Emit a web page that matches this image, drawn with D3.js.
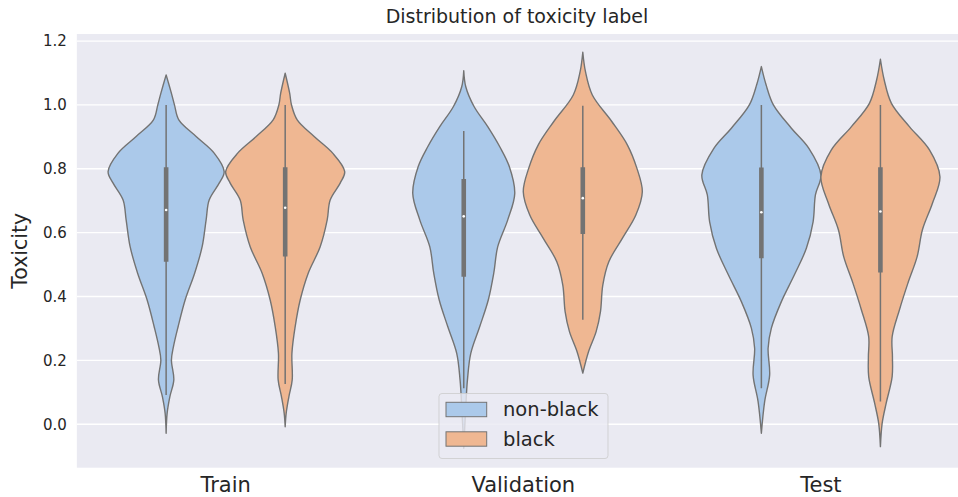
<!DOCTYPE html>
<html>
<head>
<meta charset="utf-8">
<script src="https://cdn.jsdelivr.net/npm/d3@7"></script>
<style>
  html, body { margin: 0; padding: 0; background: #ffffff; }
  svg { display: block; }
  text { font-family: "DejaVu Sans", sans-serif; fill: #262626; }
</style>
</head>
<body>
<svg id="chart" width="958" height="497"></svg>
<script>
// ---------- data ----------
const categories = ["Train", "Validation", "Test"];
const hues = ["non-black", "black"];
const yTicks = [0.0, 0.2, 0.4, 0.6, 0.8, 1.0, 1.2];

// violin profiles: [toxicity, relative density (1 = widest violin)]
const trainNonBlack = [[1.094,0],[1.036,0.089],[1.0,0.14],[0.953,0.213],[0.901,0.504],[0.849,0.807],[0.791,0.975],[0.755,0.891],[0.702,0.723],[0.640,0.672],[0.556,0.605],[0.473,0.479],[0.389,0.319],[0.306,0.202],[0.243,0.123],[0.201,0.089],[0.139,0.129],[0.086,0.062],[0.035,0.017],[-0.028,0]];
const trainBlack = [[1.099,0],[1.036,0.076],[1.0,0.106],[0.953,0.202],[0.901,0.487],[0.849,0.798],[0.791,1.0],[0.755,0.924],[0.702,0.756],[0.640,0.706],[0.556,0.588],[0.473,0.387],[0.389,0.252],[0.306,0.168],[0.222,0.113],[0.139,0.118],[0.086,0.062],[0.035,0.017],[-0.008,0]];
const valNonBlack = [[1.107,0],[1.057,0.034],[0.995,0.173],[0.932,0.403],[0.869,0.605],[0.807,0.765],[0.723,0.857],[0.640,0.739],[0.556,0.571],[0.473,0.504],[0.389,0.412],[0.306,0.269],[0.222,0.118],[0.139,0.062],[0.055,0.034],[-0.075,0]];
const valBlack = [[1.165,0],[1.104,0.045],[1.031,0.16],[0.948,0.487],[0.875,0.748],[0.802,0.908],[0.728,1.0],[0.655,0.891],[0.582,0.664],[0.509,0.437],[0.436,0.336],[0.353,0.297],[0.290,0.224],[0.227,0.096],[0.160,0]];
const testNonBlack = [[1.120,0],[1.063,0.079],[1.0,0.202],[0.927,0.504],[0.864,0.798],[0.781,1.0],[0.718,0.908],[0.634,0.869],[0.551,0.756],[0.468,0.555],[0.384,0.336],[0.301,0.168],[0.238,0.113],[0.154,0.139],[0.071,0.055],[-0.028,0]];
const testBlack = [[1.143,0],[1.078,0.064],[1.005,0.185],[0.932,0.487],[0.859,0.824],[0.775,1.0],[0.692,0.874],[0.609,0.706],[0.525,0.617],[0.442,0.462],[0.358,0.319],[0.274,0.197],[0.212,0.202],[0.149,0.197],[0.066,0.097],[0.003,0.029],[-0.070,0]];

// box statistics per category (Train, Validation, Test)
const whiskerLowNonBlack  = [0.092, 0.113, 0.113];
const q1NonBlack          = [0.509, 0.462, 0.520];
const medianNonBlack      = [0.671, 0.651, 0.664];
const q3NonBlack          = [0.805, 0.768, 0.804];
const whiskerHighNonBlack = [1.000, 0.918, 1.000];
const whiskerLowBlack     = [0.126, 0.327, 0.071];
const q1Black             = [0.525, 0.596, 0.475];
const medianBlack         = [0.678, 0.708, 0.666];
const q3Black             = [0.805, 0.805, 0.805];
const whiskerHighBlack    = [1.000, 0.997, 1.000];

// ---------- layout ----------
const svg = d3.select("#chart");
const plot = { left: 76.85, right: 969.7, top: 34, bottom: 467.7 };
const fillColors = { "non-black": "#abc9ea", "black": "#efb792" };
const lineGray = "#737373";

const x = d3.scaleBand().domain(categories).range([plot.left, plot.right]).padding(0);
const hueX = d3.scaleBand().domain(hues).range([-0.4, 0.4]); // in band units
const y = d3.scaleLinear().domain([-0.136, 1.222]).range([plot.bottom, plot.top]);
const halfW = x.bandwidth() * 0.2;

const defs = svg.append("defs");
defs.append("clipPath").attr("id", "clip").append("rect")
  .attr("x", plot.left).attr("y", plot.top)
  .attr("width", plot.right - plot.left).attr("height", plot.bottom - plot.top);

// background
svg.append("rect").attr("x", plot.left).attr("y", plot.top)
  .attr("width", plot.right - plot.left).attr("height", plot.bottom - plot.top)
  .attr("fill", "#eaeaf2");

// y grid and ticks
const yAxis = d3.axisLeft(y).tickValues(yTicks).tickFormat(d3.format(".1f")).tickSize(0).tickPadding(10);
const gy = svg.append("g").attr("transform", `translate(${plot.left},0)`).call(yAxis);
gy.select(".domain").remove();
gy.selectAll("text").attr("font-size", "15px").attr("fill", "#262626")
  .attr("font-family", "DejaVu Sans, sans-serif");
const grid = svg.append("g").attr("clip-path", "url(#clip)");
grid.selectAll("line").data(yTicks).join("line")
  .attr("x1", plot.left).attr("x2", plot.right)
  .attr("y1", d => y(d)).attr("y2", d => y(d))
  .attr("stroke", "#ffffff").attr("stroke-width", 1.3);

// x axis labels
const xAxis = d3.axisBottom(x).tickSize(0).tickPadding(9);
const gx = svg.append("g").attr("transform", `translate(0,${plot.bottom})`).call(xAxis);
gx.select(".domain").remove();
gx.selectAll("text").attr("font-size", "21px").attr("fill", "#262626")
  .attr("font-family", "DejaVu Sans, sans-serif");

// violins
const profiles = [
  { cat: "Train", hue: "non-black", data: trainNonBlack, i: 0 },
  { cat: "Train", hue: "black", data: trainBlack, i: 0 },
  { cat: "Validation", hue: "non-black", data: valNonBlack, i: 1 },
  { cat: "Validation", hue: "black", data: valBlack, i: 1 },
  { cat: "Test", hue: "non-black", data: testNonBlack, i: 2 },
  { cat: "Test", hue: "black", data: testBlack, i: 2 }
];
const centerX = p => x(p.cat) + x.bandwidth() * (0.5 + hueX(p.hue) + hueX.bandwidth() / 2);

const gV = svg.append("g").attr("clip-path", "url(#clip)");
profiles.forEach(p => {
  const cx = centerX(p);
  const area = d3.area()
    .curve(d3.curveCatmullRom.alpha(0.5))
    .y(d => y(d[0]))
    .x0(d => cx - d[1] * halfW)
    .x1(d => cx + d[1] * halfW);
  gV.append("path").datum(p.data).attr("d", area)
    .attr("fill", fillColors[p.hue]).attr("stroke", lineGray).attr("stroke-width", 1.4)
    .attr("stroke-linejoin", "round");

  const isNB = p.hue === "non-black";
  const wl = (isNB ? whiskerLowNonBlack : whiskerLowBlack)[p.i];
  const wh = (isNB ? whiskerHighNonBlack : whiskerHighBlack)[p.i];
  const q1 = (isNB ? q1NonBlack : q1Black)[p.i];
  const q3 = (isNB ? q3NonBlack : q3Black)[p.i];
  const med = (isNB ? medianNonBlack : medianBlack)[p.i];
  gV.append("line").attr("x1", cx).attr("x2", cx).attr("y1", y(wl)).attr("y2", y(wh))
    .attr("stroke", lineGray).attr("stroke-width", 1.5);
  gV.append("line").attr("x1", cx).attr("x2", cx).attr("y1", y(q1)).attr("y2", y(q3))
    .attr("stroke", lineGray).attr("stroke-width", 4.6);
  gV.append("circle").attr("cx", cx).attr("cy", y(med)).attr("r", 1.3).attr("fill", "#ffffff");
});

// title and y label
svg.append("text").attr("x", 517).attr("y", 16)
  .attr("text-anchor", "middle").attr("dominant-baseline", "central")
  .attr("font-size", "19px").text("Distribution of toxicity label");
svg.append("text").attr("transform", `translate(20,${(plot.top + plot.bottom) / 2}) rotate(-90)`)
  .attr("text-anchor", "middle").attr("dominant-baseline", "central")
  .attr("font-size", "20.5px").text("Toxicity");

// legend
const lg = svg.append("g");
lg.append("rect").attr("x", 439).attr("y", 393.5).attr("width", 169).attr("height", 65).attr("rx", 3)
  .attr("fill", "#eaeaf2").attr("fill-opacity", 0.8)
  .attr("stroke", "#cccccc").attr("stroke-opacity", 0.8).attr("stroke-width", 1);
hues.forEach((h, k) => {
  const yy = 402.3 + k * 29.5;
  lg.append("rect").attr("x", 446).attr("y", yy).attr("width", 40.7).attr("height", 14.4)
    .attr("fill", fillColors[h]).attr("stroke", lineGray).attr("stroke-width", 1);
  lg.append("text").attr("x", 503).attr("y", yy + 7.2).attr("dominant-baseline", "central")
    .attr("font-size", "19.5px").text(h);
});
</script>
</body>
</html>
